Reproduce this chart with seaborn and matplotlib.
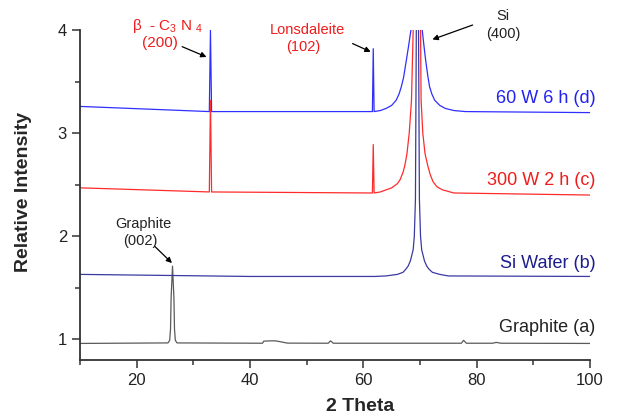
import matplotlib
matplotlib.use("Agg")
import matplotlib.pyplot as plt
from matplotlib.ticker import MultipleLocator
import seaborn as sns

# XRD traces, points
graphite_x = [10, 25.5, 25.8, 25.95, 26.05, 26.3, 26.55, 26.65, 26.8, 27.1, 42.2, 42.4, 43.5, 44.5,
              45.5, 46.6, 53.8, 54.2, 54.7, 77.3, 77.7, 78.2, 82.8, 83.5, 84.3, 100]
graphite_y = [0.96, 0.965, 0.99, 1.1, 1.4, 1.71, 1.4, 1.1, 0.99, 0.965, 0.962, 0.982, 0.985, 0.985,
              0.975, 0.963, 0.962, 0.985, 0.962, 0.962, 0.99, 0.962, 0.962, 0.97, 0.962, 0.96]

wafer_x = [10, 40, 62, 64, 66, 67, 67.5, 67.9, 68.3, 68.8, 69.0, 69.2, 69.4, 69.7, 69.9, 70.1,
           70.3, 70.8, 71.2, 71.6, 72.2, 73.5, 75, 100]
wafer_y = [1.63, 1.61, 1.61, 1.615, 1.63, 1.65, 1.68, 1.71, 1.76, 1.87, 2.0, 2.36, 4.5, 4.5, 2.36, 2.0,
           1.87, 1.76, 1.71, 1.68, 1.65, 1.63, 1.615, 1.61]

w300_x = [10, 32.8, 33.0, 33.2, 61.6, 61.75, 61.9, 63, 64, 65, 66, 66.5, 67.0, 67.3, 67.7, 68.1, 68.5,
          68.8, 69.0, 69.9, 70.1, 70.2, 70.5, 70.9, 71.4, 71.8, 72.3, 73, 74, 76, 100]
w300_y = [2.47, 2.43, 3.32, 2.43, 2.42, 2.89, 2.42, 2.43, 2.45, 2.47, 2.51, 2.55, 2.62, 2.68, 2.8, 3.0, 3.32,
          4.0, 4.6, 4.6, 4.0, 3.32, 3.0, 2.8, 2.68, 2.6, 2.53, 2.48, 2.45, 2.42, 2.40]

w60_x = [10, 32.8, 33.0, 33.2, 61.6, 61.75, 61.9, 63, 64, 65, 65.8, 66.3, 66.7, 67.1, 67.6, 68.0, 68.4,
         68.8, 70.0, 70.4, 70.7, 71.0, 71.4, 71.7, 72.1, 72.6, 73.5, 74.5, 76, 78, 100]
w60_y = [3.26, 3.21, 4.0, 3.21, 3.21, 3.82, 3.21, 3.22, 3.24, 3.27, 3.32, 3.38, 3.45, 3.54, 3.71, 3.85, 4.0,
         4.6, 4.6, 4.0, 3.85, 3.71, 3.55, 3.45, 3.38, 3.32, 3.27, 3.24, 3.22, 3.21, 3.20]

series_labels = ["Graphite (a)", "Si Wafer (b)", "300 W 2 h (c)", "60 W 6 h (d)"]
label_y = [1.07, 1.69, 2.50, 3.29]
line_colors = ["#5a5a5a", "#3a3aa0", "#ff2b2b", "#2f2fff"]
text_colors = ["#222222", "#1c1c8c", "#ee1c1c", "#2222ee"]

sns.set_style("ticks")
plt.rcParams["font.family"] = ["Liberation Sans", "DejaVu Sans"]
plt.rcParams["mathtext.fontset"] = "custom"
plt.rcParams["mathtext.rm"] = "Liberation Sans"
plt.rcParams["mathtext.it"] = "Liberation Sans:italic"

fig = plt.figure(figsize=(6.17, 4.19), dpi=100)
ax = fig.add_axes([0.13, 0.141, 0.826, 0.787])

traces = [(graphite_x, graphite_y), (wafer_x, wafer_y), (w60_x, w60_y), (w300_x, w300_y)]
order = [0, 1, 3, 2]
for (xs, ys), ci in zip(traces, order):
    sns.lineplot(x=xs, y=ys, ax=ax, color=line_colors[ci], linewidth=0.9)

ax.set_xlim(10, 100)
ax.set_ylim(0.8, 4.0)
ax.xaxis.set_major_locator(MultipleLocator(20))
ax.xaxis.set_minor_locator(MultipleLocator(10))
ax.yaxis.set_major_locator(MultipleLocator(1))
ax.yaxis.set_minor_locator(MultipleLocator(0.5))
ax.tick_params(which="major", direction="out", length=6, width=1.1, labelsize=12, colors="#333333",
               labelcolor="#222222")
ax.tick_params(which="minor", direction="out", length=3.5, width=1.1, colors="#333333")
sns.despine(ax=ax)
for s in ["left", "bottom"]:
    ax.spines[s].set_linewidth(1.3)
    ax.spines[s].set_color("#333333")

ax.set_xlabel("2 Theta", fontsize=14, fontweight="bold")
ax.set_ylabel("Relative Intensity", fontsize=14, fontweight="bold")
ax.xaxis.set_label_coords(0.55, -0.115)
ax.yaxis.set_label_coords(-0.094, 0.51)

for lab, ly, tc in zip(series_labels, label_y, text_colors):
    ax.text(101.0, ly, lab, color=tc, fontsize=13, ha="right", va="baseline", clip_on=False)

# peak annotations
arrow = dict(arrowstyle="-|>", color="black", lw=0.9, mutation_scale=8, shrinkA=0, shrinkB=0)
ax.text(25.5, 4.0, r"β  - C$_{3}$ N $_{4}$", color="#ee1c1c", fontsize=11, ha="center", va="baseline",
        clip_on=False)
ax.text(24.1, 3.88, "(200)", color="#ee1c1c", fontsize=11, ha="center", va="center")
ax.annotate("", xy=(32.3, 3.74), xytext=(28.0, 3.84), arrowprops=arrow)

ax.text(50.1, 4.0, "Lonsdaleite", color="#ee1c1c", fontsize=10.5, ha="center", va="center", clip_on=False)
ax.text(49.4, 3.84, "(102)", color="#ee1c1c", fontsize=10.5, ha="center", va="center")
ax.annotate("", xy=(61.3, 3.79), xytext=(58.1, 3.87), arrowprops=arrow)

ax.text(84.7, 4.14, "Si", color="#222222", fontsize=10.5, ha="center", va="center", clip_on=False)
ax.text(84.7, 3.96, "(400)", color="#222222", fontsize=10.5, ha="center", va="center", clip_on=False)
ax.annotate("", xy=(72.2, 3.91), xytext=(79.3, 4.05), arrowprops=arrow, annotation_clip=False)

ax.text(21.1, 2.12, "Graphite", color="#222222", fontsize=10.5, ha="center", va="center")
ax.text(20.6, 1.95, "(002)", color="#222222", fontsize=10.5, ha="center", va="center")
ax.annotate("", xy=(26.2, 1.74), xytext=(23.2, 1.90), arrowprops=arrow)

fig.savefig("out.png", dpi=100)
